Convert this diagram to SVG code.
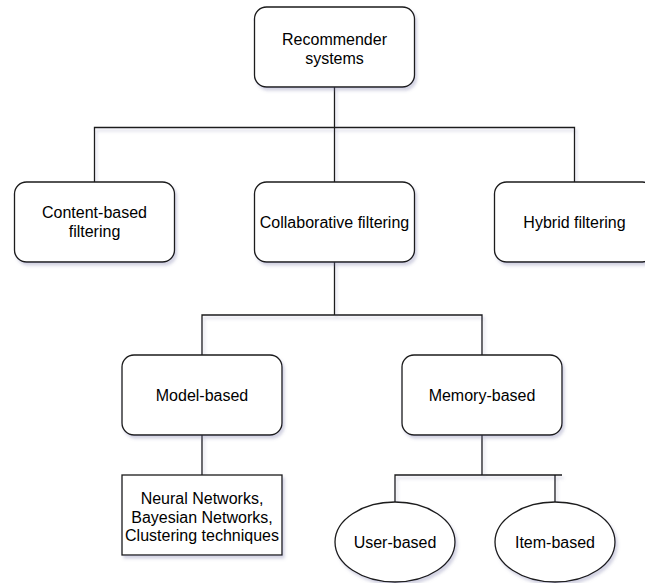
<svg xmlns="http://www.w3.org/2000/svg" width="645" height="583" viewBox="0 0 645 583">
  <defs>
    <filter id="sh" filterUnits="userSpaceOnUse" x="0" y="0" width="645" height="583">
      <feDropShadow dx="2" dy="3" stdDeviation="1.6" flood-color="#7070a0" flood-opacity="0.3"/>
    </filter>
  </defs>
  <style>
    .box { fill: #ffffff; stroke: #1a1a1a; stroke-width: 1.3; filter: url(#sh); }
    .edge { fill: none; stroke: #1a1a1a; stroke-width: 1.3; filter: url(#sh); }
    .t { font-family: "Liberation Sans", Arial, Helvetica, sans-serif; font-size: 16px; fill: #000000; text-anchor: middle; }
  </style>
  <rect width="645" height="583" fill="#ffffff"/>

  <g id="connectors">
    <path class="edge" d="M334.5 87 V127.5 M94.5 182 V127.5 H574.5 V182 M334.5 127.5 V182"/>
    <path class="edge" d="M334.5 262 V315 M202 355 V315 H482 V355"/>
    <path class="edge" d="M202 435 V475"/>
    <path class="edge" d="M482 435 V475 M395 502 V475 H562 M555 475 V502"/>
  </g>

  <g id="recommender-systems">
    <rect class="box" x="254.5" y="7" width="160" height="80" rx="12" ry="12"/>
    <text class="t" x="334.5" y="45">Recommender</text>
    <text class="t" x="334.5" y="64">systems</text>
  </g>

  <g id="content-based">
    <rect class="box" x="14.5" y="182" width="160" height="80" rx="12" ry="12"/>
    <text class="t" x="94.5" y="217.5">Content-based</text>
    <text class="t" x="94.5" y="236.5">filtering</text>
  </g>

  <g id="collaborative">
    <rect class="box" x="254.5" y="182" width="160" height="80" rx="12" ry="12"/>
    <text class="t" x="334.5" y="228">Collaborative filtering</text>
  </g>

  <g id="hybrid">
    <rect class="box" x="494.5" y="182" width="160" height="80" rx="12" ry="12"/>
    <text class="t" x="574.5" y="228">Hybrid filtering</text>
  </g>

  <g id="model-based">
    <rect class="box" x="122" y="355" width="160" height="80" rx="12" ry="12"/>
    <text class="t" x="202" y="401">Model-based</text>
  </g>

  <g id="memory-based">
    <rect class="box" x="402" y="355" width="160" height="80" rx="12" ry="12"/>
    <text class="t" x="482" y="401">Memory-based</text>
  </g>

  <g id="techniques">
    <rect class="box" x="122" y="475" width="160" height="80"/>
    <text class="t" x="202" y="504">Neural Networks,</text>
    <text class="t" x="202" y="522.5">Bayesian Networks,</text>
    <text class="t" x="202" y="541">Clustering techniques</text>
  </g>

  <g id="user-based">
    <ellipse class="box" cx="395" cy="542" rx="60" ry="40"/>
    <text class="t" x="395" y="548">User-based</text>
  </g>

  <g id="item-based">
    <ellipse class="box" cx="555" cy="542" rx="60" ry="40"/>
    <text class="t" x="555" y="548">Item-based</text>
  </g>
</svg>
